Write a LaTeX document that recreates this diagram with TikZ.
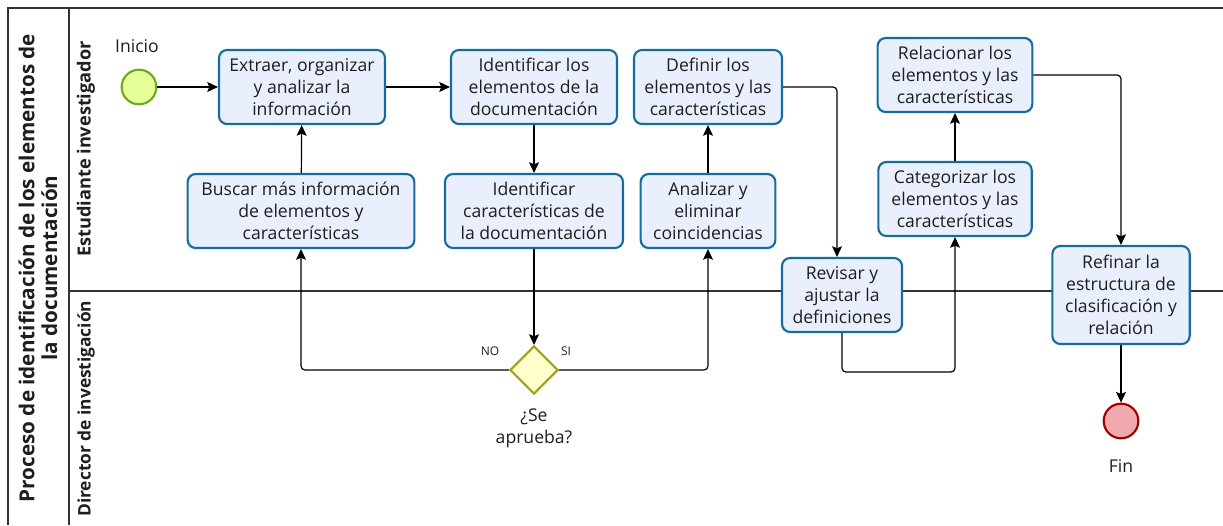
\documentclass[tikz,border=0pt]{standalone}
\usepackage{fontspec}
\setmainfont{Open Sans}
\usepackage{tikz}
\usetikzlibrary{arrows,arrows.meta,shapes,positioning}
\usepackage{xcolor}
\definecolor{tareafondo}{RGB}{234,239,253}
\definecolor{tareaborde}{RGB}{22,108,156}
\definecolor{inifondo}{RGB}{230,255,153}
\definecolor{iniborde}{RGB}{108,170,32}
\definecolor{finfondo}{RGB}{238,170,172}
\definecolor{finborde}{RGB}{160,0,0}
\definecolor{decfondo}{RGB}{255,255,204}
\definecolor{decborde}{RGB}{160,160,32}
\definecolor{texto}{RGB}{30,30,30}
\tikzstyle{tarea} = [draw=tareaborde, fill=tareafondo, line width=1.6pt, rounded corners=6pt, align=center, inner sep=0pt, minimum height=55.5pt, font=\fontsize{13.2}{16.5}\selectfont, text=texto]
\tikzstyle{evento} = [circle, line width=1.6pt, minimum size=26pt, inner sep=0pt]
\tikzstyle{flecha} = [->,>={Stealth[length=8pt,width=7.5pt,inset=1.5pt]}, line width=0.9pt, rounded corners=3pt]
\tikzstyle{carril} = [line width=0.9pt, draw=black!80]
\tikzstyle{etiq} = [font=\fontsize{13.2}{16.5}\selectfont, text=texto, align=center]

\begin{document}
\begin{tikzpicture}[x=0.75pt, y=-0.75pt]
\useasboundingbox (0,0) rectangle (1223,525);
% Pool and lanes
\draw[carril] (1223,8) -- (8,8) -- (8,525);
\draw[carril] (69,8) -- (69,525);
\draw[carril] (69,291) -- (1223,291);
\node[rotate=90, align=center, font=\fontsize{15.5}{17}\selectfont\bfseries, text=texto] (pool) at (38,268) {Proceso de identificación de los elementos de\\la documentación};
\node[rotate=90, font=\fontsize{13.6}{15}\selectfont\bfseries, text=texto] (carril1) at (86,149) {Estudiante investigador};
\node[rotate=90, anchor=east, font=\fontsize{13}{15}\selectfont\bfseries, text=texto] (carril2) at (86,296) {Director de investigación};

% Events
\node[evento, draw=iniborde, fill=inifondo] (inicio) at (139,87) {};
\node[etiq] (txtinicio) at (137,46) {Inicio};
\node[evento, draw=finborde, fill=finfondo] (fin) at (1121,421) {};
\node[etiq] (txtfin) at (1121,466) {Fin};

% Tasks
\node[tarea, minimum width=124.5pt] (extraer) at (302,87) {Extraer, organizar\\y analizar la\\información};
\node[tarea, minimum width=124.5pt] (identelem) at (534,87) {Identificar los\\elementos de la\\documentación};
\node[tarea, minimum width=111pt] (definir) at (708,87) {Definir los\\elementos y las\\características};
\node[tarea, minimum width=170pt] (buscar) at (301,211) {Buscar más información\\de elementos y\\características};
\node[tarea, minimum width=133.5pt] (identcar) at (534,211) {Identificar\\características de\\la documentación};
\node[tarea, minimum width=101pt] (analizar) at (708,211) {Analizar y\\eliminar\\coincidencias};
\node[tarea, minimum width=90pt] (revisar) at (842,295) {Revisar y\\ajustar la\\definiciones};
\node[tarea, minimum width=115pt] (categorizar) at (955,199) {Categorizar los\\elementos y las\\características};
\node[tarea, minimum width=116pt] (relacionar) at (955,75) {Relacionar los\\elementos y las\\características};
\node[tarea, minimum width=103pt, minimum height=73.5pt] (refinar) at (1121,295) {Refinar la\\estructura de\\clasificación y\\relación};

% Gateway
\node[diamond, draw=decborde, fill=decfondo, line width=1.6pt, minimum size=36pt, inner sep=0pt] (decision) at (534,370) {};
\node[etiq] (txtdecision) at (534,428) {¿Se\\aprueba?};
\node[font=\fontsize{9}{11}\selectfont, text=texto] (txtno) at (490,351) {NO};
\node[font=\fontsize{9}{11}\selectfont, text=texto] (txtsi) at (566,351) {SI};

% Flows
\draw[flecha] (inicio) -- (extraer);
\draw[flecha] (extraer) -- (identelem);
\draw[flecha] (identelem) -- (identcar);
\draw[flecha] (identcar) -- (decision);
\draw[flecha] (decision.west) -| (buscar.south);
\draw[flecha] (decision.east) -| (analizar.south);
\draw[flecha] (buscar) -- (extraer);
\draw[flecha] (analizar) -- (definir);
\draw[flecha] (definir.east) -| ([xshift=-3.75pt]revisar.north);
\draw[flecha] (revisar.south) -- ++(0,39) -| (categorizar.south);
\draw[flecha] (categorizar) -- (relacionar);
\draw[flecha] (relacionar.east) -| (refinar.north);
\draw[flecha] (refinar) -- (fin);
\end{tikzpicture}
\end{document}
